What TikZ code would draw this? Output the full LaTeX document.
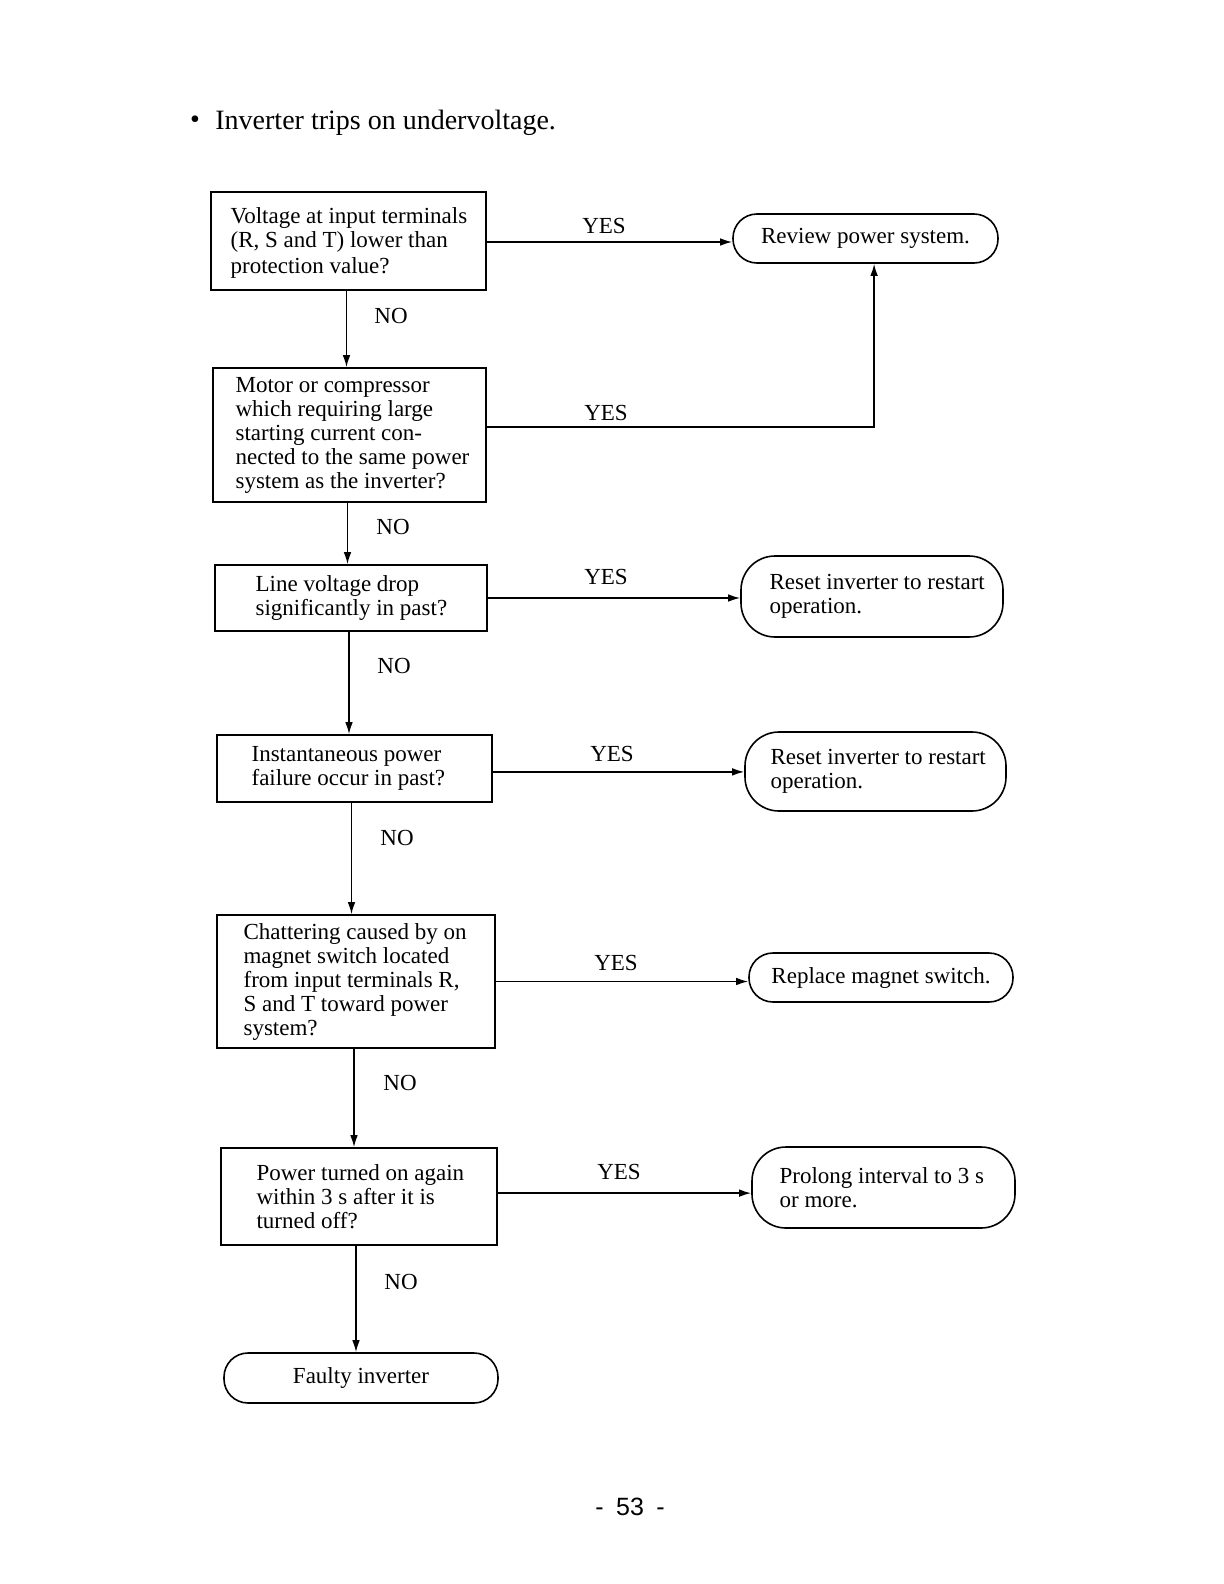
\documentclass[tikz,border=0pt]{standalone}
\usepackage{fontspec}
\setmainfont{Liberation Serif}
\newfontfamily\pagefont{Liberation Sans}
\usetikzlibrary{arrows.meta,calc}
\newcommand\boxfont{\fontsize{11.5}{12}\selectfont}
\begin{document}
\begin{tikzpicture}[x=0.5pt,y=-0.5pt,
  box/.style={draw, line width=0.8pt, inner sep=0pt},
  term/.style={draw, line width=0.8pt, font=\boxfont, inner sep=0pt},
  txt/.style={font=\boxfont, align=left, inner sep=0pt, anchor=west},
  arr/.style={-{Latex[length=6pt,width=3.8pt]}, line width=0.75pt},
  lbl/.style={font=\boxfont, inner sep=0pt}]
\useasboundingbox (0,0) rectangle (1224,1584);
% title
\node[font=\fontsize{14}{16}\selectfont, inner sep=0pt] (bul) at (195,122) {\textbullet};
\node[font=\fontsize{14}{16}\selectfont, inner sep=0pt, anchor=base west] (title) at (215,129) {Inverter trips on undervoltage.};
% decision boxes
\node[box, minimum width=137.5pt, minimum height=49pt] (b1) at (348.5,241) {};
\node[txt] (t1) at ([xshift=10pt,yshift=-1pt]b1.west) {Voltage at input terminals\\(R, S and T) lower than\\[1pt]protection value?};
\node[box, minimum width=136.5pt, minimum height=67pt] (b2) at (349.5,435) {};
\node[txt] (t2) at ([xshift=11.5pt]b2.west) {Motor or compressor\\which requiring large\\starting current con-\\nected to the same power\\system as the inverter?};
\node[box, minimum width=136pt, minimum height=33pt] (b3) at (351,598) {};
\node[txt] (t3) at ([xshift=20.5pt]b3.west) {Line voltage drop\\significantly in past?};
\node[box, minimum width=137.5pt, minimum height=33.5pt] (b4) at (354.5,768.5) {};
\node[txt] (t4) at ([xshift=17.5pt]b4.west) {Instantaneous power\\failure occur in past?};
\node[box, minimum width=139pt, minimum height=66.5pt] (b5) at (356,981.5) {};
\node[txt] (t5) at ([xshift=13.5pt]b5.west) {Chattering caused by on\\magnet switch located\\from input terminals R,\\S and T toward power\\system?};
\node[box, minimum width=138pt, minimum height=48.5pt] (b6) at (359,1196.5) {};
\node[txt] (t6) at ([xshift=18pt]b6.west) {Power turned on again\\within 3 s after it is\\turned off?};
% terminals
\node[term, rounded corners=12pt, minimum width=132.5pt, minimum height=24.5pt] (rev) at (865.5,238.5)
  {Review power system.};
\node[term, rounded corners=17pt, minimum width=131pt, minimum height=40.5pt] (rs1) at (872,596.5) {};
\node[txt] (t7) at ([xshift=14.5pt]rs1.west) {Reset inverter to restart\\operation.};
\node[term, rounded corners=17pt, minimum width=130.5pt, minimum height=39.5pt] (rs2) at (875.5,771.5) {};
\node[txt] (t8) at ([xshift=13pt]rs2.west) {Reset inverter to restart\\operation.};
\node[term, rounded corners=12pt, minimum width=132pt, minimum height=24.5pt] (rep) at (881,977.5)
  {Replace magnet switch.};
\node[term, rounded corners=17pt, minimum width=131.5pt, minimum height=40.5pt] (pro) at (883.5,1187.5) {};
\node[txt] (t9) at ([xshift=14pt]pro.west) {Prolong interval to 3 s\\or more.};
\node[term, rounded corners=12pt, minimum width=137pt, minimum height=25pt] (fau) at (361,1378)
  {Faulty inverter};
% NO arrows
\draw[arr] ([xshift=-1pt]b1.south) -- ([xshift=-1pt]b1.south |- b2.north);
\draw[arr] ([xshift=-1pt]b2.south) -- ([xshift=-1pt]b2.south |- b3.north);
\draw[arr] ([xshift=-1pt]b3.south) -- ([xshift=-1pt]b3.south |- b4.north);
\draw[arr] ([xshift=-1.5pt]b4.south) -- ([xshift=-1.5pt]b4.south |- b5.north);
\draw[arr] ([xshift=-1pt]b5.south) -- ([xshift=-1pt]b5.south |- b6.north);
\draw[arr] ([xshift=-1.5pt]b6.south) -- ([xshift=-1.5pt]b6.south |- fau.north);
% YES arrows
\draw[arr] ([yshift=-0.5pt]b1.east) -- ([yshift=-0.5pt]b1.east -| rev.west);
\draw[arr] ([yshift=4pt]b2.east) -| ([xshift=4.3pt]rev.south);
\draw[arr] (b3.east) -- (b3.east -| rs1.west);
\draw[arr] ([yshift=-1.7pt]b4.east) -- ([yshift=-1.7pt]b4.east -| rs2.west);
\draw[arr] (b5.east) -- (b5.east -| rep.west);
\draw[arr] ([yshift=1.7pt]b6.east) -- ([yshift=1.7pt]b6.east -| pro.west);
% labels
\node[lbl] (y1) at (604,226) {YES};
\node[lbl] (y2) at (606,413) {YES};
\node[lbl] (y3) at (606,577) {YES};
\node[lbl] (y4) at (612,754) {YES};
\node[lbl] (y5) at (616,963) {YES};
\node[lbl] (y6) at (619,1172) {YES};
\node[lbl] (n1) at (391,316) {NO};
\node[lbl] (n2) at (393,527) {NO};
\node[lbl] (n3) at (394,666) {NO};
\node[lbl] (n4) at (397,838) {NO};
\node[lbl] (n5) at (400,1083) {NO};
\node[lbl] (n6) at (401,1282) {NO};
% page number
\node[font=\pagefont\fontsize{12.5}{14}\selectfont, inner sep=0pt] (pg) at (630,1507) {-\enspace 53\enspace -};
\end{tikzpicture}
\end{document}
